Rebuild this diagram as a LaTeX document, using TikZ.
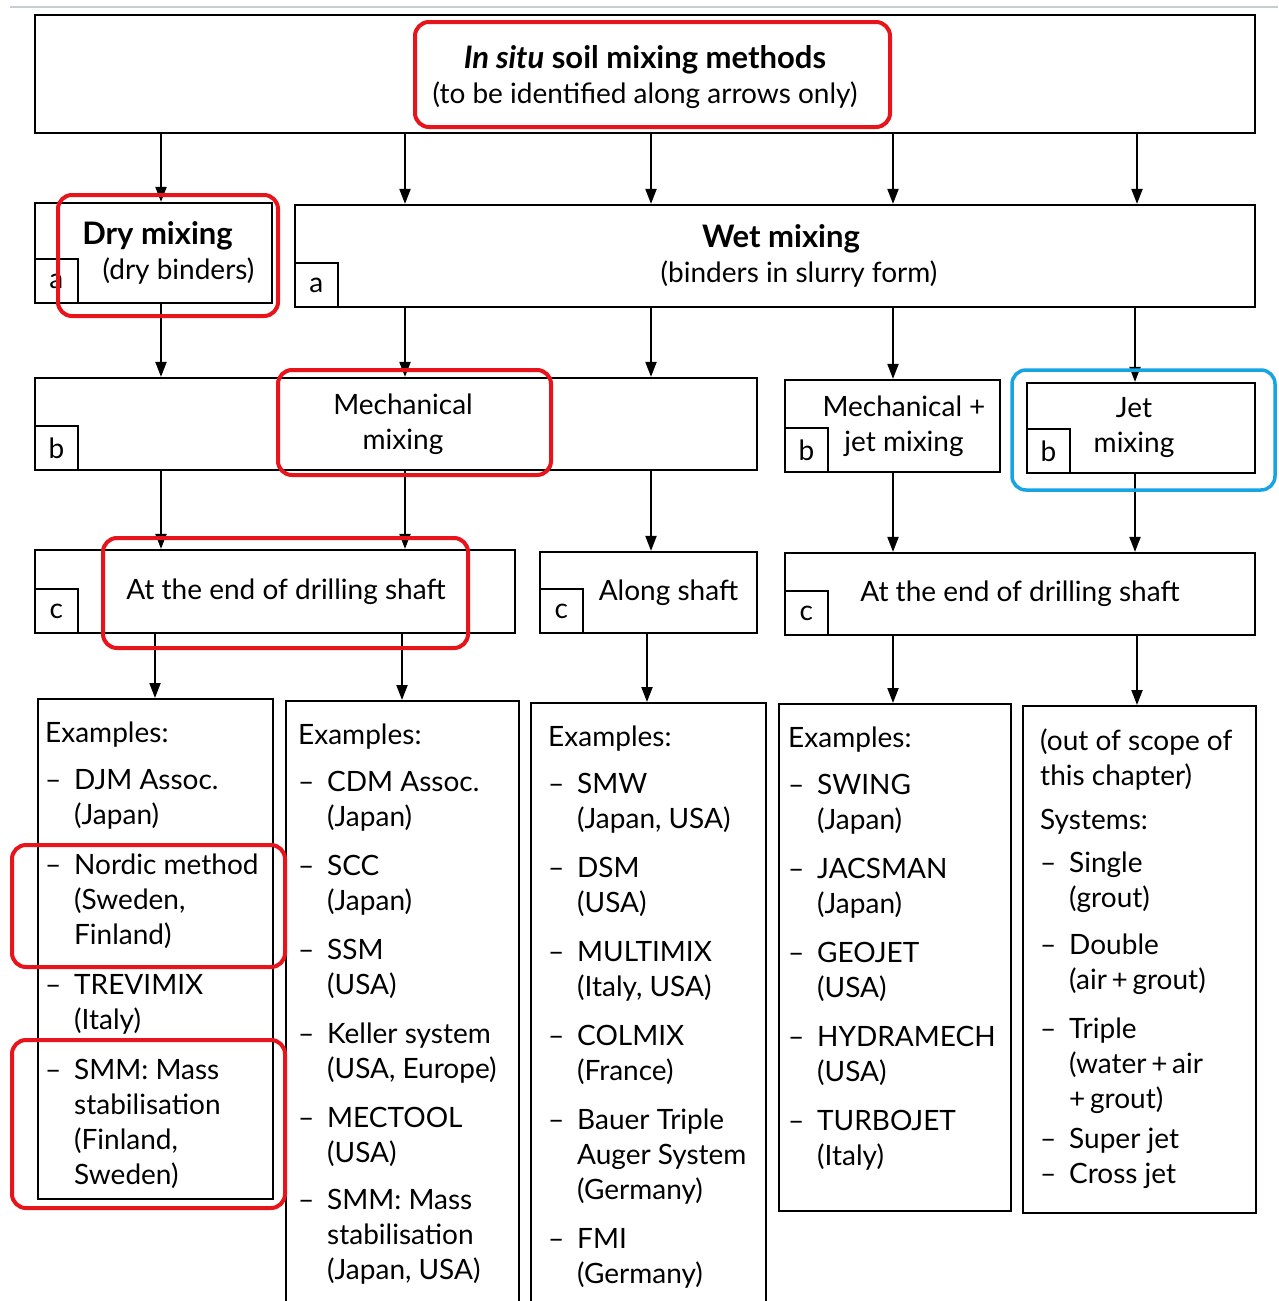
\documentclass[tikz,border=0pt]{standalone}
\usepackage{fontspec}
\setmainfont{Lato}
\usetikzlibrary{arrows.meta, positioning}
\definecolor{HiRed}  {HTML}{E8141B}
\definecolor{HiBlue} {HTML}{16A5E0}
\definecolor{RuleGry}{HTML}{C8CCD4}
\newcommand{\exdash}{\makebox[29pt][l]{--}}
\newcommand{\exind}{\hspace*{29pt}}
\newcommand{\headfont}{\fontsize{31}{35}\selectfont\bfseries}

\begin{document}
\begin{tikzpicture}[
  x=1pt, y=-1pt,
  font=\fontsize{28}{35}\selectfont, >={Triangle[length=15pt,width=11pt]},
  every node/.style={align=center},
  box/.style    = {draw, line width=2.2pt, inner sep=0pt},
  tag/.style    = {draw, line width=2pt, inner sep=0pt, anchor=south west,
                   minimum width=43pt, minimum height=44pt},
  exbox/.style  = {draw, line width=2.2pt, inner sep=0pt, anchor=north west},
  extext/.style = {anchor=north west, align=left, inner sep=0pt,
                   xshift=9pt, yshift=-24pt},
  arr/.style    = {->, line width=2pt},
  hilite/.style = {draw=HiRed, line width=4pt, rounded corners=14pt},
]
\clip (0,0) rectangle (1278,1301);
\fill[white] (0,0) rectangle (1278,1301);
\draw[RuleGry, line width=2pt] (10,7) -- (1278,7);

% levels
\node[box, minimum width=1220pt, minimum height=118pt] (methods) at (645,74)
  {\rule{0pt}{30pt}{\headfont\itshape In situ\/\upshape{} soil mixing methods}\\(to be identified along arrows only)};
\node[box, minimum width=237pt, minimum height=100pt] (dry) at (153.5,253)
  {\hspace*{8pt}{\headfont Dry mixing}\\\hspace*{50pt}(dry binders)};
\node[box, minimum width=960pt, minimum height=102pt] (wet) at (775,256)
  {\hspace*{12pt}{\headfont Wet mixing}\\\hspace*{48pt}(binders in slurry form)};
\node[box, minimum width=722pt, minimum height=92pt] (mech) at (396,424)
  {\hspace*{14pt}Mechanical\\\hspace*{14pt}mixing};
\node[box, minimum width=215pt, minimum height=92pt] (mechjet) at (892.5,426)
  {\hspace*{23pt}Mechanical +\\\hspace*{23pt}jet mixing};
\node[box, minimum width=228pt, minimum height=90pt] (jet) at (1141,428)
  {Jet\hspace*{14pt}\\mixing\hspace*{14pt}};
\node[box, minimum width=480pt, minimum height=83pt] (endA) at (275,591.5)
  {\hspace*{22pt}At the end of drilling shaft};
\node[box, minimum width=217pt, minimum height=81pt] (along) at (648.5,592.5)
  {\hspace*{40pt}Along shaft};
\node[box, minimum width=470pt, minimum height=82pt] (endB) at (1020,594)
  {At the end of drilling shaft};

\node[tag] (dryTag)     at (dry.south west)     {a};
\node[tag] (wetTag)     at (wet.south west)     {a};
\node[tag] (mechTag)    at (mech.south west)    {b};
\node[tag] (mechjetTag) at (mechjet.south west) {b};
\node[tag] (jetTag)     at (jet.south west)     {b};
\node[tag] (endATag)    at (endA.south west)    {c};
\node[tag] (alongTag)   at (along.south west)   {c};
\node[tag] (endBTag)    at (endB.south west)    {c};

% examples
\node[exbox, minimum width=235pt, minimum height=500pt,
  label={[extext, xshift=-1pt]north west:{Examples:\\[12pt]
    \exdash DJM Assoc.\\ \exind(Japan)\\[15pt]
    \exdash Nordic method\\ \exind(Sweden,\\ \exind Finland)\\[15pt]
    \exdash TREVIMIX\\ \exind(Italy)\\[15pt]
    \exdash SMM: Mass\\ \exind stabilisation\\ \exind(Finland,\\ \exind Sweden)}}]
  (exDry) at (37,698) {};
\node[exbox, minimum width=233pt, minimum height=620pt,
  label={[extext, xshift=4pt]north west:{Examples:\\[12pt]
    \exdash CDM Assoc.\\ \exind(Japan)\\[14pt]
    \exdash SCC\\ \exind(Japan)\\[14pt]
    \exdash SSM\\ \exind(USA)\\[14pt]
    \exdash Keller system\\ \exind(USA, Europe)\\[14pt]
    \exdash MECTOOL\\ \exind(USA)\\[12pt]
    \exdash SMM: Mass\\ \exind stabilisation\\ \exind(Japan, USA)}}]
  (exMech) at (285,700) {};
\node[exbox, minimum width=235pt, minimum height=620pt,
  label={[extext, xshift=9pt]north west:{Examples:\\[12pt]
    \exdash SMW\\ \exind(Japan, USA)\\[14pt]
    \exdash DSM\\ \exind(USA)\\[14pt]
    \exdash MULTIMIX\\ \exind(Italy, USA)\\[14pt]
    \exdash COLMIX\\ \exind(France)\\[14pt]
    \exdash Bauer Triple\\ \exind Auger System\\ \exind(Germany)\\[14pt]
    \exdash FMI\\ \exind(Germany)}}]
  (exAlong) at (530,702) {};
\node[exbox, minimum width=232pt, minimum height=507pt,
  label={[extext, xshift=1pt]north west:{Examples:\\[12pt]
    \exdash SWING\\ \exind(Japan)\\[14pt]
    \exdash JACSMAN\\ \exind(Japan)\\[14pt]
    \exdash GEOJET\\ \exind(USA)\\[14pt]
    \exdash HYDRAMECH\\ \exind(USA)\\[14pt]
    \exdash TURBOJET\\ \exind(Italy)}}]
  (exMechjet) at (778,703) {};
\node[exbox, minimum width=233pt, minimum height=507pt,
  label={[extext, xshift=9pt]north west:{(out of scope of\\ this chapter)\\[9pt]
    Systems:\\[8pt]
    \exdash Single\\ \exind(grout)\\[12pt]
    \exdash Double\\ \exind(air\,+\,grout)\\[14pt]
    \exdash Triple\\ \exind(water\,+\,air\\ \exind+\,grout)\\[5pt]
    \exdash Super jet\\
    \exdash Cross jet}}]
  (exJet) at (1022,705) {};

% arrows
\foreach \x/\a/\b in {161/methods/dry, 405/methods/wet, 651/methods/wet,
                      893/methods/wet, 1137/methods/wet,
                      161/dry/mech, 405/wet/mech, 651/wet/mech,
                      893/wet/mechjet, 1135/wet/jet,
                      161/mech/endA, 405/mech/endA, 651/mech/along,
                      893/mechjet/endB, 1135/jet/endB,
                      155/endA/exDry, 402/endA/exMech, 647/along/exAlong,
                      893/endB/exMechjet, 1137/endB/exJet}{
  \draw[arr] (\x,0 |- \a.south) -- (\x,0 |- \b.north);
}

% highlights
\draw[hilite] (415,22)   rectangle (890,127);
\draw[hilite] (58,195)   rectangle (278,316);
\draw[hilite] (278,370)  rectangle (551,475);
\draw[hilite] (103,538)  rectangle (468,648);
\draw[hilite] (12,845)   rectangle (285,967);
\draw[hilite] (12,1040)  rectangle (285,1208);
\draw[hilite, draw=HiBlue, line width=3.5pt] (1012,370) rectangle (1275,490);
\end{tikzpicture}
\end{document}
